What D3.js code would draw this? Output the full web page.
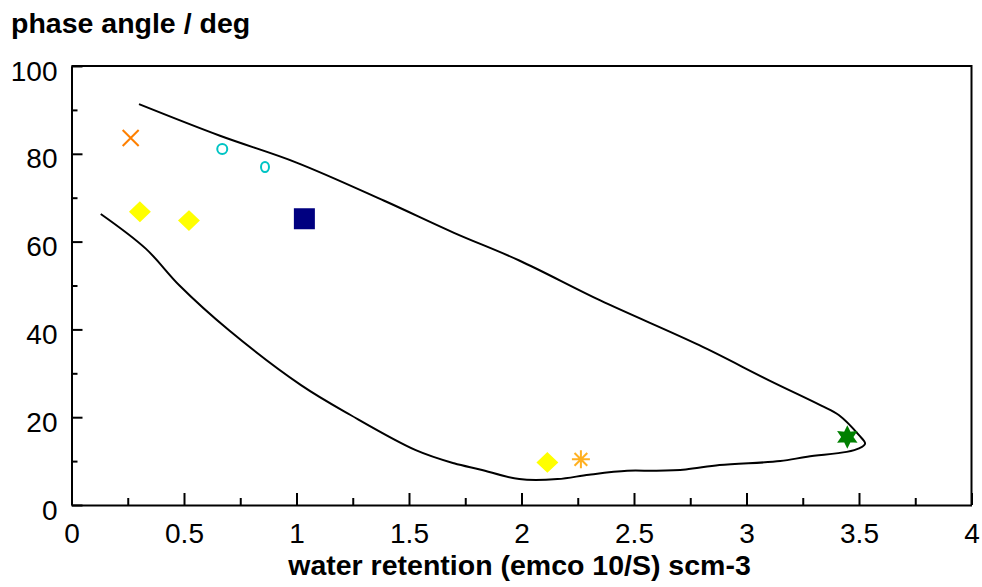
<!DOCTYPE html>
<html>
<head>
  <meta charset="utf-8" />
  <title>phase angle vs water retention</title>
  <script src="https://cdn.jsdelivr.net/npm/d3@7"></script>
  <style>
    body, html { margin: 0; background: white; }
    svg text { font-family: "Liberation Sans", Arial, sans-serif; fill: #000; }
    .axis path, .axis line { stroke: #000; stroke-width: 2px; }
    .axis text { font-size: 28px; }
    .label { font-size: 28.5px; font-weight: bold; }
  </style>
</head>
<body>
<svg id="chart" width="982" height="587"></svg>
<script>
// outline drawn around the measurements (upper branch -> tip -> lower branch)
var outlineX = [0.30, 0.66, 1.00, 1.39, 1.70, 1.99, 2.35, 2.79, 3.10, 3.33, 3.41, 3.50, 3.527, 3.50, 3.445, 3.27, 3.15, 2.88, 2.73, 2.60, 2.47, 2.30, 2.16, 1.99, 1.815, 1.70, 1.53, 1.24, 1.02, 0.70, 0.48, 0.33, 0.13];
var outlineY = [91.3, 84.1, 78.0, 69.3, 62.0, 55.7, 46.6, 36.4, 28.4, 22.7, 20.5, 15.9, 14.0, 12.9, 12.1, 11.0, 10.0, 9.1, 8.1, 7.8, 7.8, 6.9, 5.9, 5.9, 8.1, 9.5, 12.5, 20.5, 27.3, 39.8, 50.0, 58.4, 66.3];

// individual samples
var pointX = [0.263, 0.670, 0.860, 0.304, 0.522, 1.035, 2.115, 2.264, 3.448];
var pointY = [83.6, 81.1, 77.0, 66.8, 64.8, 65.2, 9.7, 10.4, 15.5];
var pointMarker = ["cross", "ring", "ringSmall", "diamond", "diamond", "square", "diamond", "asterisk", "star6"];

var xTicks = [0, 0.5, 1, 1.5, 2, 2.5, 3, 3.5, 4];
var yTicks = [0, 20, 40, 60, 80, 100];

var svg = d3.select("#chart");
var plotLeft = 71.5, plotRight = 971.5, plotTop = 66, plotBottom = 505;

var x = d3.scaleLinear().domain([0, 4]).range([plotLeft, plotRight]);
var y = d3.scaleLinear().domain([0, 100]).range([plotBottom, plotTop]);

// box
svg.append("path")
  .attr("d", "M" + plotLeft + "," + plotTop + "H" + plotRight + "V" + plotBottom)
  .attr("fill", "none").attr("stroke", "#000").attr("stroke-width", 2);

// minor ticks
svg.append("g").attr("class", "axis")
  .attr("transform", "translate(0," + plotBottom + ")")
  .call(d3.axisBottom(x).tickValues(d3.range(0.25, 4, 0.5)).tickSize(-7).tickFormat(""))
  .select(".domain").remove();
svg.append("g").attr("class", "axis")
  .attr("transform", "translate(" + plotLeft + ",0)")
  .call(d3.axisLeft(y).tickValues(d3.range(10, 100, 20)).tickSize(-6).tickFormat(""))
  .select(".domain").remove();

// major axes
var xAxis = svg.append("g").attr("class", "axis")
  .attr("transform", "translate(0," + plotBottom + ")")
  .call(d3.axisBottom(x).tickValues(xTicks).tickSize(-12).tickSizeOuter(0).tickPadding(18)
    .tickFormat(function(d) { return String(d); }));
var yAxis = svg.append("g").attr("class", "axis")
  .attr("transform", "translate(" + plotLeft + ",0)")
  .call(d3.axisLeft(y).tickValues(yTicks).tickSize(-11).tickSizeOuter(0).tickPadding(14));
svg.selectAll(".axis text").attr("font-family", null).attr("font-size", null);
yAxis.selectAll(".tick text").attr("dy", "0.5em");

// outline
var outline = d3.range(outlineX.length).map(function(i) { return [outlineX[i], outlineY[i]]; });
svg.append("path")
  .datum(outline)
  .attr("fill", "none")
  .attr("stroke", "#000")
  .attr("stroke-width", 2)
  .attr("stroke-linejoin", "round")
  .attr("d", d3.line().x(function(d) { return x(d[0]); }).y(function(d) { return y(d[1]); }).curve(d3.curveCatmullRom.alpha(0.5)));

// markers
var markerStyle = {
  cross:     { fill: "none", stroke: "#FF8000" },
  ring:      { fill: "none", stroke: "#00C4C4" },
  ringSmall: { fill: "none", stroke: "#00C4C4" },
  diamond:   { fill: "#FFFF00", stroke: "#FFFF00" },
  square:    { fill: "#000080", stroke: "#000080" },
  asterisk:  { fill: "none", stroke: "#FFB020" },
  star6:     { fill: "#008000", stroke: "#008000" }
};

function markerPath(type) {
  switch (type) {
    case "cross": return "M-8,-8L8,8M-8,8L8,-8";
    case "ring": return "M5,0A5,5 0 1,1 -5,0A5,5 0 1,1 5,0";
    case "ringSmall": return "M4,0A4,5 0 1,1 -4,0A4,5 0 1,1 4,0";
    case "diamond": return "M0,-9L9.5,0L0,9L-9.5,0Z";
    case "square": return "M-9.5,-9.5H9.5V9.5H-9.5Z";
    case "asterisk":
      return d3.range(4).map(function(k) {
        var a = k * Math.PI / 4, dx = 9 * Math.cos(a), dy = 9 * Math.sin(a);
        return "M" + (-dx) + "," + (-dy) + "L" + dx + "," + dy;
      }).join("");
    case "star6":
      var pts = d3.range(12).map(function(k) {
        var a = -Math.PI / 2 + k * Math.PI / 6, r = k % 2 ? 5 : 9.5;
        return [r * Math.cos(a), r * Math.sin(a)];
      });
      return "M" + pts.join("L") + "Z";
  }
}

svg.append("g").selectAll("path")
  .data(d3.range(pointX.length))
  .enter().append("path")
  .attr("transform", function(i) { return "translate(" + x(pointX[i]) + "," + y(pointY[i]) + ")"; })
  .attr("d", function(i) { return markerPath(pointMarker[i]); })
  .attr("fill", function(i) { return markerStyle[pointMarker[i]].fill; })
  .attr("stroke", function(i) { return markerStyle[pointMarker[i]].stroke; })
  .attr("stroke-width", 2);

// labels
svg.append("text").attr("class", "label").attr("x", 11).attr("y", 33).text("phase angle / deg");
svg.append("text").attr("class", "label").attr("x", (plotLeft + plotRight) / 2 - 2).attr("y", 575)
  .attr("text-anchor", "middle").text("water retention (emco 10/S) scm-3");
</script>
</body>
</html>
